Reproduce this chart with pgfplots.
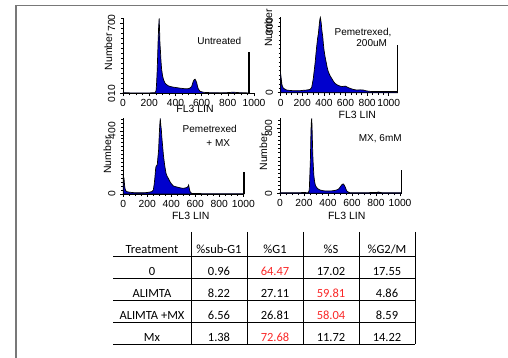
\documentclass[border=0pt]{standalone}
\usepackage{pgfplots}
\pgfplotsset{compat=1.18}
\usepackage{fontspec}
\setmainfont{Liberation Sans}
\newfontfamily\tabfont{Carlito}
\definecolor{histblue}{RGB}{0,0,205}
\definecolor{framegray}{RGB}{120,120,120}
\definecolor{tabred}{RGB}{250,40,40}
\pgfplotsset{panel/.style={
  scale only axis, axis lines*=left, xmin=0, ymin=0, clip=false,
  tick align=outside,
  xtick={0,200,400,600,800,1000}, xticklabels={0,200,400,600,800,1000},
  minor xtick={50,100,...,1000},
  major tick length=3pt, minor tick length=2pt,
  tick style={black, line width=0.6pt},
  minor tick style={black, line width=0.5pt},
  axis line style={black, line width=0.8pt},
  tick label style={font=\fontsize{10.3}{10}\selectfont, inner sep=1pt},
  yticklabel style={rotate=90, anchor=south},
  xticklabel shift=2pt, yticklabel shift=3.5pt,
  label style={font=\fontsize{10.5}{11}\selectfont},
  xlabel={FL3 LIN}, ylabel={Number},
  /pgf/number format/assume math mode=true,
  anchor=south west,
}}
\pgfplotsset{hist/.style={fill=histblue, draw=black, line width=0.7pt},
  spike/.style={black, line width=1.6pt}}
\begin{document}
\begin{tikzpicture}
\path[use as bounding box] (0,0) rectangle (508pt,358pt);
\draw[framegray, line width=1.5pt] (16pt,0pt) -- (16pt,352.3pt) -- (508pt,352.3pt);

% Panel 1: Untreated
\begin{axis}[panel, at={(123pt,264.5pt)}, width=131pt, height=75.5pt,
  xmax=1000, ymax=750, ytick={700}, yticklabels={700},
  minor ytick={50,100,...,750},
  extra y ticks={0}, extra y tick labels={010},
  extra y tick style={tick label style={anchor=south west}},
  xlabel style={at={(axis description cs:0.55,-0.205)}, anchor=center},
  ylabel style={at={(axis description cs:-0.112,0.554)}, anchor=center}]
\addplot[hist] coordinates {(0,0) (2,9) (30,7) (60,6) (100,5) (140,6) (180,5) (220,7) (245,9) (252,25) (256,90) (260,200) (264,350) (268,520) (272,660) (276,745) (279,640) (282,500) (286,420) (290,320) (295,240) (302,175) (310,135) (320,105) (333,88) (346,76) (365,68) (384,63) (410,58) (435,53) (460,49) (486,46) (505,50) (515,58) (524,68) (530,95) (537,122) (544,138) (550,142) (556,128) (562,110) (568,75) (575,45) (588,22) (613,12) (650,9) (700,8) (750,7) (800,9) (842,13) (880,9) (920,7) (960,6) (962,6) (962,0)} \closedcycle;
\addplot[spike] coordinates {(962,0) (962,415)};
\end{axis}

% Panel 2: Pemetrexed 200uM
\begin{axis}[panel, at={(280.7pt,265.3pt)}, width=117pt, height=75.9pt,
  xmax=1083, ymax=345, ytick={0,300}, yticklabels={0,300},
  minor ytick={20,40,...,340},
  xlabel style={at={(axis description cs:0.655,-0.294)}, anchor=center},
  ylabel style={at={(axis description cs:-0.106,0.852)}, anchor=center}]
\addplot[hist] coordinates {(0,0) (0,85) (6,60) (12,35) (25,20) (56,12) (90,10) (117,9) (150,9) (179,9) (210,11) (241,12) (272,15) (287,24) (302,65) (310,100) (318,133) (326,175) (333,209) (341,245) (349,270) (354,295) (358,315) (363,335) (367,342) (371,330) (376,312) (382,280) (389,255) (395,222) (401,194) (410,165) (420,141) (430,115) (441,95) (456,78) (472,65) (488,52) (503,42) (525,35) (549,30) (570,28) (596,30) (611,27) (625,23) (642,20) (670,15) (704,12) (735,13) (765,12) (795,8) (827,6) (870,5) (950,5) (1000,5) (1081,5) (1081,0)} \closedcycle;
\addplot[spike] coordinates {(1081,0) (1081,217)};
\end{axis}

% Panel 3: Pemetrexed + MX
\begin{axis}[panel, at={(123.3pt,164pt)}, width=121pt, height=75.8pt,
  xmax=1008, ymax=480, ytick={0,400}, yticklabels={0,400},
  minor ytick={25,50,...,475},
  xlabel style={at={(axis description cs:0.557,-0.29)}, anchor=center},
  ylabel style={at={(axis description cs:-0.132,0.515)}, anchor=center}]
\addplot[hist] coordinates {(0,0) (0,110) (3,105) (6,99) (10,60) (14,36) (20,22) (28,15) (56,11) (80,9) (111,8) (150,8) (194,9) (220,12) (236,15) (250,25) (257,60) (264,110) (268,150) (272,173) (278,180) (283,184) (288,230) (294,278) (297,330) (300,384) (304,440) (308,479) (312,440) (317,405) (322,350) (328,300) (333,255) (339,215) (347,170) (356,131) (365,112) (375,99) (382,88) (389,78) (400,65) (417,51) (437,46) (458,42) (480,38) (500,36) (515,38) (533,42) (540,50) (544,57) (550,35) (556,15) (569,4) (600,3) (700,2) (800,2) (900,2) (1000,2) (1006,2) (1006,0)} \closedcycle;
\addplot[spike] coordinates {(1006,0) (1006,141)};
\end{axis}

% Panel 4: MX 6mM
\begin{axis}[panel, at={(280pt,164.7pt)}, width=121.7pt, height=75.5pt,
  xmax=1014, ymax=930, ytick={0,800}, yticklabels={0,800},
  minor ytick={50,100,...,900},
  xlabel style={at={(axis description cs:0.548,-0.30)}, anchor=center},
  ylabel style={at={(axis description cs:-0.137,0.55)}, anchor=center}]
\addplot[hist] coordinates {(0,0) (0,8) (50,8) (100,8) (150,8) (200,9) (236,8) (244,41) (248,200) (253,410) (256,620) (258,780) (261,870) (264,923) (267,830) (269,698) (272,540) (275,410) (279,300) (283,205) (288,150) (294,103) (302,80) (311,62) (322,50) (333,41) (355,33) (375,29) (400,29) (431,30) (452,34) (472,41) (485,50) (494,62) (505,85) (514,103) (521,112) (528,115) (535,100) (542,82) (549,55) (556,29) (570,15) (583,8) (650,8) (700,8) (780,9) (806,10) (819,16) (835,11) (847,8) (900,8) (950,8) (1011,8) (1011,0)} \closedcycle;
\addplot[spike] coordinates {(1011,0) (1011,287)};
\end{axis}

% Annotations
\begin{scope}[every node/.style={font=\fontsize{10}{10}\selectfont, inner sep=0pt, anchor=base}]
\node at (219.3pt,313.7pt) {Untreated};
\node at (363pt,322.7pt) {Pemetrexed,};
\node at (371.7pt,311.1pt) {200uM};
\node at (209.7pt,225.1pt) {Pemetrexed};
\node at (218.3pt,211.1pt) {+ MX};
\node at (380.3pt,216.1pt) {MX, 6mM};
\end{scope}

% Table
\foreach \y in {256,278,300,322,344} \draw[black, line width=0.8pt] (113pt,{(358-\y)*1pt}) -- (415pt,{(358-\y)*1pt});
\foreach \x in {191,247,303,359,415} \draw[black, line width=0.8pt] (\x pt,126pt) -- (\x pt,14pt);
\begin{scope}[every node/.style={font=\tabfont\fontsize{12.5}{13}\selectfont, inner sep=0pt, anchor=base}]
\node at (152pt,104.6pt) {Treatment};
\node at (219pt,104.6pt) {\%sub-G1};
\node at (275pt,104.6pt) {\%G1};
\node at (331pt,104.6pt) {\%S};
\node at (387pt,104.6pt) {\%G2/M};
\node at (152pt,82.2pt) {0};
\node at (219pt,82.2pt) {0.96};
\node[text=tabred] at (275pt,82.2pt) {64.47};
\node at (331pt,82.2pt) {17.02};
\node at (387pt,82.2pt) {17.55};
\node at (152pt,60.2pt) {ALIMTA};
\node at (219pt,60.2pt) {8.22};
\node at (275pt,60.2pt) {27.11};
\node[text=tabred] at (331pt,60.2pt) {59.81};
\node at (387pt,60.2pt) {4.86};
\node at (152pt,38.2pt) {ALIMTA +MX};
\node at (219pt,38.2pt) {6.56};
\node at (275pt,38.2pt) {26.81};
\node[text=tabred] at (331pt,38.2pt) {58.04};
\node at (387pt,38.2pt) {8.59};
\node at (152pt,16.6pt) {Mx};
\node at (219pt,16.6pt) {1.38};
\node[text=tabred] at (275pt,16.6pt) {72.68};
\node at (331pt,16.6pt) {11.72};
\node at (387pt,16.6pt) {14.22};
\end{scope}
\end{tikzpicture}
\end{document}
